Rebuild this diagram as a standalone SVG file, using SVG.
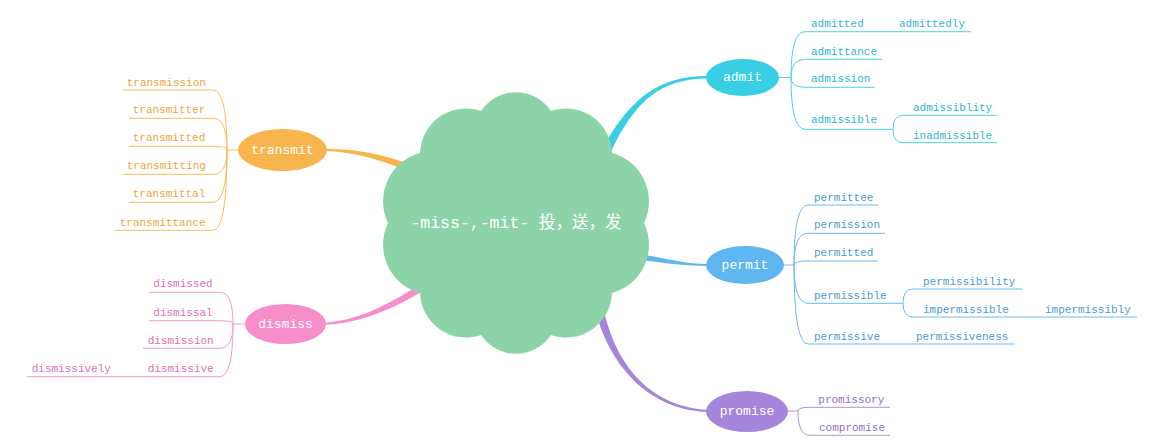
<svg xmlns="http://www.w3.org/2000/svg" width="1163" height="446" viewBox="0 0 1163 446">
<style>
.sub{font-family:"Liberation Mono","DejaVu Sans Mono",monospace;font-size:11px}
.lbl{font-family:"Liberation Mono","DejaVu Sans Mono",monospace;font-size:13px;text-anchor:middle;dominant-baseline:central}
.ln{fill:none;stroke-width:1}
.cy .ln{stroke:#4dd2e6}.cy .sub{fill:#2fb6cf}
.bl .ln{stroke:#6cbaf2}.bl .sub{fill:#4a9bd6}
.or .ln{stroke:#f9bd5c}.or .sub{fill:#eda63c}
.pk .ln{stroke:#f79bd0}.pk .sub{fill:#e070b2}
.pu .ln{stroke:#ad92df}.pu .sub{fill:#8e70c9}
g text.lbl{fill:#ffffff}
</style>
<rect width="1163" height="446" fill="#fff"/>
<g id="connectors">
<path fill="#38cfe5" d="M 596 166 L 608.5 138 C 632.4 98.5 660 75.5 708 76 L 708 78.5 C 660 78.5 637.6 101.5 615.5 142 L 603 170 Z"/>
<path fill="#60b6f0" d="M 600 253 L 630 253 C 660 256 680 264 708 264 L 708 266 C 680 266 660 262 630 259 L 600 259 Z"/>
<path fill="#a586dc" d="M 590 290 L 596 313 C 609 361 645 410 708 412 L 708 410 C 645 406 615 359 604 311 L 598 288 Z"/>
<path fill="#f9b54d" d="M 430 172 L 406.2 162.7 C 376 152.5 350 148.5 325 149 L 325 151 C 350 151.5 374 157.5 403.8 169.3 L 428 178 Z"/>
<path fill="#f78dca" d="M 440 278 L 414.2 288 C 383.5 307.5 355 320.5 324 323 L 324 325 C 355 323.5 386.5 312.5 417.8 294 L 442 284 Z"/>
</g>
<g id="center">
<path fill="#8cd4a8" d="M 481 111 A 42 42 0 0 1 551 111 A 46 46 0 0 1 612 153 A 50 50 0 0 1 644 223 A 50 50 0 0 1 612 293 A 46 46 0 0 1 551 335 A 42 42 0 0 1 481 335 A 46 46 0 0 1 420 293 A 50 50 0 0 1 388 223 A 50 50 0 0 1 420 153 A 46 46 0 0 1 481 111 Z"/>
<text x="516" y="223" fill="#fff" text-anchor="middle" dominant-baseline="central" style="font-family:'Liberation Mono','Noto Sans CJK SC',monospace;font-size:16.5px">-miss-,-mit- 投，送，发</text>
</g>
<g id="admit" class="cy">
<path class="ln" d="M 779 77.5 H 791 M 791 77.5 Q 791 31.7 805 31.7 H 880 M 880 31.7 H 971 M 791 77.5 Q 791 59.3 805 59.3 H 882 M 791 77.5 Q 791 87.3 805 87.3 H 875 M 791 77.5 Q 791 129.3 805 129.3 H 893 M 893 129.3 Q 893 115.3 903 115.3 H 997 M 893 129.3 Q 893 142.7 903 142.7 H 997"/>
<ellipse cx="742.5" cy="77.5" rx="36.5" ry="18.5" fill="#38cfe5"/>
<text class="lbl" x="742.5" y="77.5">admit</text>
<text class="sub" x="811" y="26.7">admitted</text>
<text class="sub" x="899" y="26.7">admittedly</text>
<text class="sub" x="811" y="54.7">admittance</text>
<text class="sub" x="811" y="81.7">admission</text>
<text class="sub" x="811" y="123.3">admissible</text>
<text class="sub" x="913" y="110.7">admissiblity</text>
<text class="sub" x="913" y="139">inadmissible</text>
</g>
<g id="permit" class="bl">
<path class="ln" d="M 784 265 H 794 M 794 265 Q 794 205 808 205 H 878 M 794 265 Q 794 233.3 808 233.3 H 885 M 794 265 Q 794 261 808 261 H 878 M 794 265 Q 794 303.3 808 303.3 H 903 M 903 303.3 Q 903 289 913 289 H 1022 M 903 303.3 Q 903 317 913 317 H 1025 M 1025 317 H 1137 M 794 265 Q 794 344 808 344 H 897 M 897 344 H 1015"/>
<ellipse cx="745" cy="265" rx="39" ry="19" fill="#60b6f0"/>
<text class="lbl" x="745" y="265">permit</text>
<text class="sub" x="814" y="200.7">permittee</text>
<text class="sub" x="814" y="228.3">permission</text>
<text class="sub" x="814" y="256.3">permitted</text>
<text class="sub" x="814" y="299">permissible</text>
<text class="sub" x="923" y="284.7">permissibility</text>
<text class="sub" x="923" y="312.7">impermissible</text>
<text class="sub" x="1045" y="312.7">impermissibly</text>
<text class="sub" x="814" y="339.7">permissive</text>
<text class="sub" x="916" y="339.7">permissiveness</text>
</g>
<g id="transmit" class="or">
<path class="ln" d="M 238 150 H 227 M 227 150 Q 227 90 213 90 H 123 M 227 150 Q 227 118.3 213 118.3 H 129 M 227 150 Q 227 146.3 213 146.3 H 129 M 227 150 Q 227 174.3 213 174.3 H 123 M 227 150 Q 227 202.3 213 202.3 H 129 M 227 150 Q 227 230.3 213 230.3 H 115"/>
<ellipse cx="282.5" cy="150" rx="44.5" ry="21" fill="#f9b54d"/>
<text class="lbl" x="282.5" y="150">transmit</text>
<text class="sub" x="126.7" y="85.7">transmission</text>
<text class="sub" x="132.7" y="113.3">transmitter</text>
<text class="sub" x="132.7" y="141.3">transmitted</text>
<text class="sub" x="126.7" y="169.3">transmitting</text>
<text class="sub" x="132.7" y="197.3">transmittal</text>
<text class="sub" x="119.7" y="225.7">transmittance</text>
</g>
<g id="dismiss" class="pk">
<path class="ln" d="M 245 324 H 233 M 233 324 Q 233 292.3 220 292.3 H 149 M 233 324 Q 233 320.7 220 320.7 H 149 M 233 324 Q 233 348.3 220 348.3 H 143 M 233 324 Q 233 376.7 220 376.7 H 143 M 143 376.7 H 27"/>
<ellipse cx="285.5" cy="324" rx="40.5" ry="20" fill="#f78dca"/>
<text class="lbl" x="285.5" y="324">dismiss</text>
<text class="sub" x="153.3" y="287.3">dismissed</text>
<text class="sub" x="153.3" y="315.7">dismissal</text>
<text class="sub" x="147.7" y="344">dismission</text>
<text class="sub" x="147.7" y="371.7">dismissive</text>
<text class="sub" x="31.7" y="371.7">dismissively</text>
</g>
<g id="promise" class="pu">
<path class="ln" d="M 788 411 H 798 M 798 411 Q 798 407.3 810 407.3 H 890 M 798 411 Q 798 435.3 810 435.3 H 890"/>
<ellipse cx="747" cy="411.5" rx="41" ry="20.5" fill="#a586dc"/>
<text class="lbl" x="747" y="411.5">promise</text>
<text class="sub" x="818.3" y="403">promissory</text>
<text class="sub" x="819" y="431">compromise</text>
</g>
</svg>
